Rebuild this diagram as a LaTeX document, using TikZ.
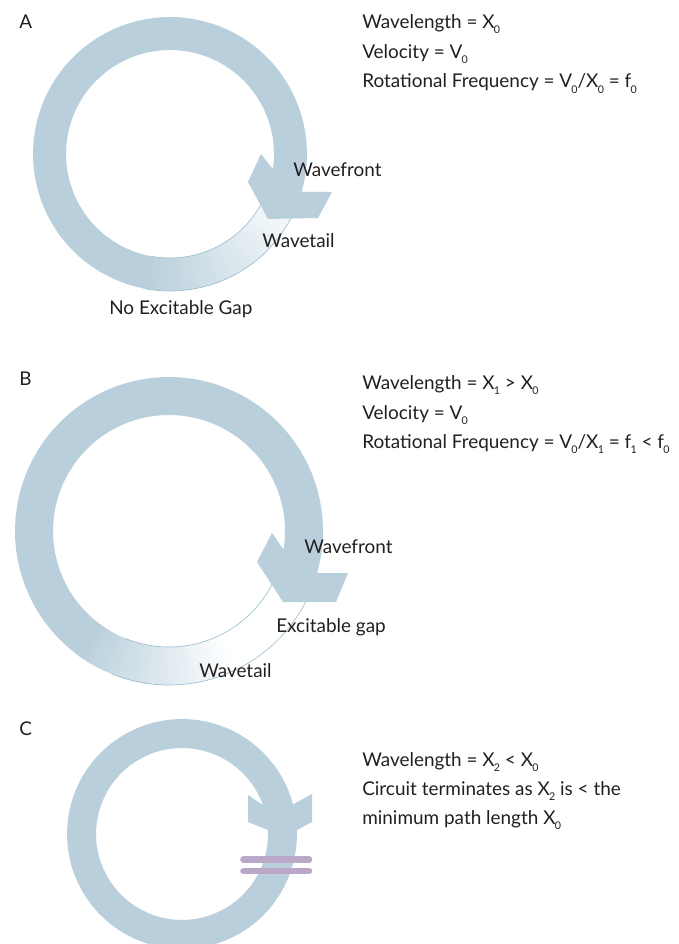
\documentclass[tikz,border=0pt]{standalone}
\usepackage{fontspec}
\setmainfont{Lato}
\definecolor{ringblue}{RGB}{185,208,220}
\definecolor{edgeblue}{RGB}{158,190,208}
\definecolor{barpurple}{RGB}{187,168,200}
\definecolor{txt}{RGB}{35,31,32}
\newcommand\subsc[1]{\kern-0.04em\raisebox{-0.55ex}{\fontsize{8}{9}\selectfont #1}}
\newcommand\annseg[7]{%
  \fill[#1] plot[variable=\t,domain=#6:#7,samples=80] ({#2+#4*cos(\t)},{#3+#4*sin(\t)})
   -- plot[variable=\t,domain=#7:#6,samples=80] ({#2+#5*cos(\t)},{#3+#5*sin(\t)}) -- cycle;}
\newcommand\arcline[5]{%
  \draw[edgeline] plot[variable=\t,domain=#4:#5,samples=60] ({#1+#3*cos(\t)},{#2+#3*sin(\t)});}
\tikzset{
  lbl/.style={anchor=base west, inner sep=0pt, text=txt, font=\fontsize{14.2}{16}\selectfont},
  ringfill/.style={fill=ringblue},
  edgeline/.style={draw=edgeblue, line width=0.5pt},
  blockbar/.style={draw=barpurple, line width=5pt, line cap=round}
}
\begin{document}
\begin{tikzpicture}[x=0.75pt,y=-0.75pt]
\useasboundingbox (0,0) rectangle (678,944);
% ---------------- Panel A ----------------
\foreach \i in {0,...,37}{
  \pgfmathsetmacro\aa{25+2*\i}
  \pgfmathsetmacro\ab{\aa+2.6}
  \pgfmathtruncatemacro\pp{12+88*\i/37}
  \annseg{fill=ringblue!\pp!white}{170}{154}{137}{104}{\aa}{\ab}
}
\arcline{170}{154}{137}{25}{100}
\arcline{170}{154}{104}{25}{100}
\annseg{ringfill}{170}{154}{137}{104}{-260}{20}
\fill[ringfill] (272,168) -- (261,154) -- (248,182) -- (268,219) -- (318,218) -- (332,192) -- (303,192) -- cycle;
\node[lbl] (lA) at (19,29) {A};
\node[lbl] (a1) at (362,28.5) {Wavelength = X\subsc{0}};
\node[lbl] (a2) at (362,58.5) {Velocity = V\subsc{0}};
\node[lbl] (a3) at (362,88) {Rotational Frequency = V\subsc{0}/X\subsc{0} = f\subsc{0}};
\node[lbl] (aw) at (293,177) {Wavefront};
\node[lbl] (at) at (262,248) {Wavetail};
\node[lbl] (ag) at (109,315) {No Excitable Gap};
% ---------------- Panel B ----------------
\foreach \i in {0,...,42}{
  \pgfmathsetmacro\aa{62+1.5*\i}
  \pgfmathsetmacro\ab{\aa+2.2}
  \pgfmathtruncatemacro\pp{100*\i/42}
  \annseg{fill=ringblue!\pp!white}{169}{531}{154}{116}{\aa}{\ab}
}
\arcline{169}{531}{154}{25}{112}
\arcline{169}{531}{116}{25}{112}
\annseg{ringfill}{169}{531}{154}{116}{-236}{20}
\fill[ringfill] (286,553) -- (272,533) -- (257,562) -- (283,602) -- (336,602) -- (348,573) -- (318,573) -- cycle;
\node[lbl] (lB) at (19,385) {B};
\node[lbl] (b1) at (362,389) {Wavelength = X\subsc{1} > X\subsc{0}};
\node[lbl] (b2) at (362,419) {Velocity = V\subsc{0}};
\node[lbl] (b3) at (362,448) {Rotational Frequency = V\subsc{0}/X\subsc{1} = f\subsc{1} < f\subsc{0}};
\node[lbl] (bw) at (304,553) {Wavefront};
\node[lbl] (bg) at (276,632) {Excitable gap};
\node[lbl] (bt) at (199,677) {Wavetail};
% ---------------- Panel C ----------------
\annseg{ringfill}{182}{834}{115}{86}{0}{360}
\fill[ringfill] (263,805) -- (248,795) -- (248,822) -- (268,830) -- (297,830) -- (312,822) -- (312,794) -- (292,805) -- cycle;
\draw[blockbar] (243.5,859.5) -- (309,859.5);
\draw[blockbar] (243.5,871) -- (309,871);
\node[lbl] (lC) at (19,735) {C};
\node[lbl] (c1) at (362,766) {Wavelength = X\subsc{2} < X\subsc{0}};
\node[lbl] (c2) at (362,795) {Circuit terminates as X\subsc{2} is < the};
\node[lbl] (c3) at (362,824) {minimum path length X\subsc{0}};
\end{tikzpicture}
\end{document}
